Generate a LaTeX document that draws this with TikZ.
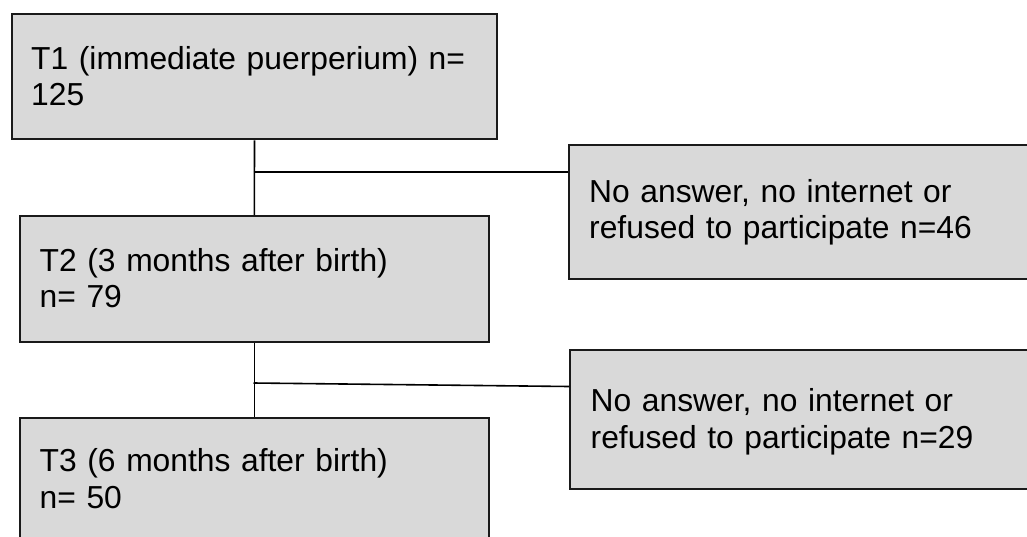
\documentclass[tikz,border=0pt]{standalone}
\usepackage{fontspec}
\setmainfont{Liberation Sans}
\definecolor{boxfill}{HTML}{D9D9D9}
\definecolor{boxline}{HTML}{1A1A1A}
\tikzset{
  stagebox/.style={draw=boxline, line width=2pt, fill=boxfill, rectangle, inner sep=0pt, anchor=north west},
  boxtext/.style={anchor=base west, inner sep=0pt, text width=480pt, align=left,
    font=\fontsize{31.8pt}{36.5pt}\selectfont},
  link/.style={draw=black, line width=1.6pt}
}
\begin{document}
\begin{tikzpicture}[x=1pt, y=-1pt]
\useasboundingbox (0,0) rectangle (1027,536);
\fill[white] (0,0) rectangle (1027,536);
\clip (0,0) rectangle (1027,536);
% boxes
\node[stagebox, minimum width=485pt, minimum height=125pt] (t1) at (11,13.3) {};
\node[stagebox, minimum width=468.7pt, minimum height=125.5pt] (t2) at (19,215) {};
\node[stagebox, minimum width=468.7pt, minimum height=130pt] (t3) at (19,417) {};
\node[stagebox, minimum width=470pt, minimum height=134pt] (r1) at (568,144) {};
\node[stagebox, minimum width=470pt, minimum height=139pt] (r2) at (569.3,349.3) {};
% texts
\node[boxtext] (t1txt) at (31,69) {T1 (immediate puerperium) n=\\125};
\node[boxtext] (t2txt) at (39.5,271) {T2 (3 months after birth)\\n= 79};
\node[boxtext] (t3txt) at (39.5,471.7) {T3 (6 months after birth)\\n= 50};
\node[boxtext] (r1txt) at (589,202) {No answer, no internet or\\refused to participate n=46};
\node[boxtext] (r2txt) at (590.5,411.7) {No answer, no internet or\\refused to participate n=29};
% connectors
\coordinate (b1) at (253.5,171.7);
\coordinate (b2) at (253.5,383);
\coordinate (e2) at (569.3,386.5);
\draw[link] (t1.south) -- (t2.north);
\draw[link] (t2.south) -- (t3.north);
\draw[link] (b1) -- (b1 -| r1.west);
\draw[link] (b2) -- (e2);
\end{tikzpicture}
\end{document}
